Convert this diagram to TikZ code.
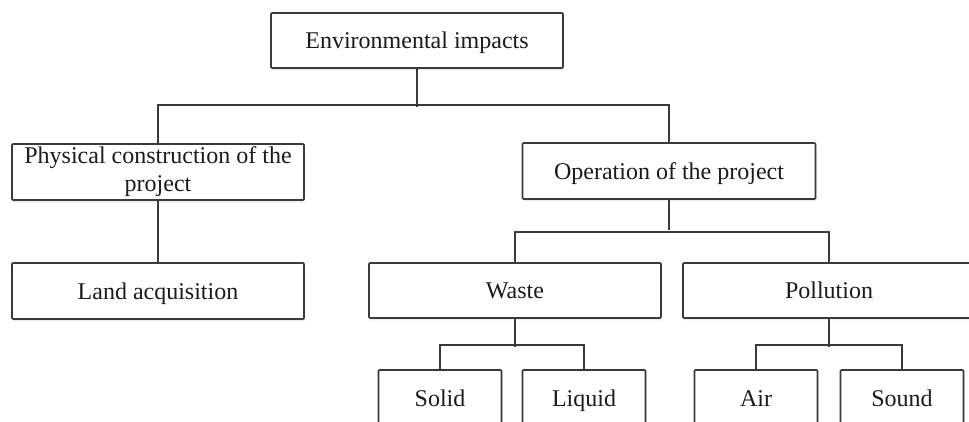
\documentclass[tikz,border=0pt]{standalone}
\usepackage{fontspec}
\setmainfont{Liberation Serif}
\usetikzlibrary{shadows}
\definecolor{linec}{HTML}{3A3A3A}
\definecolor{textc}{HTML}{1E1A1A}
\begin{document}
\begin{tikzpicture}[x=1pt,y=1pt,
  box/.style={draw=linec, line width=1.6pt, fill=white, rounded corners=1pt,
    inner sep=0pt, text=textc,
    font=\fontsize{24}{30}\selectfont,
    drop shadow={shadow xshift=1pt, shadow yshift=-2.5pt, opacity=0.15}},
  one/.style={text height=19pt, text depth=2pt},
  wide/.style={box, minimum width=292pt, minimum height=56pt},
  small/.style={box, one, minimum width=123pt, minimum height=56pt},
  conn/.style={draw=linec, line width=1.6pt}]
\useasboundingbox (0,0) rectangle (969,422);
\clip (0,0) rectangle (969,422);
\fill[white] (0,0) rectangle (969,422);
\node[wide, one, minimum height=55pt] (env) at (417,381.5) {Environmental impacts};
\node[wide, align=center] (phys) at (158,250) {Physical construction of the\\[-2pt]project};
\node[wide, one, minimum width=293pt] (op) at (669,251) {Operation of the project};
\node[wide, one] (land) at (158,131) {Land acquisition};
\node[wide, one, minimum height=55pt] (waste) at (515,131.5) {Waste};
\node[wide, one, minimum height=55pt] (poll) at (829,131.5) {Pollution};
\node[small] (solid) at (440,24) {Solid};
\node[small] (liquid) at (584,24) {Liquid};
\node[small] (air) at (756,24) {Air};
\node[small] (sound) at (902,24) {Sound};
% connectors
\draw[conn] (env.south) -- ++(0,-38);
\draw[conn] (phys.north) -- ++(0,38) -| (op.north);
\draw[conn] (phys.south) -- (land.north);
\draw[conn] (op.south) -- ++(0,-30);
\draw[conn] (waste.north) -- ++(0,30) -| (poll.north);
\draw[conn] (waste.south) -- ++(0,-28);
\draw[conn] (solid.north) -- ++(0,24) -| (liquid.north);
\draw[conn] (poll.south) -- ++(0,-28);
\draw[conn] (air.north) -- ++(0,24) -| (sound.north);
\end{tikzpicture}
\end{document}
